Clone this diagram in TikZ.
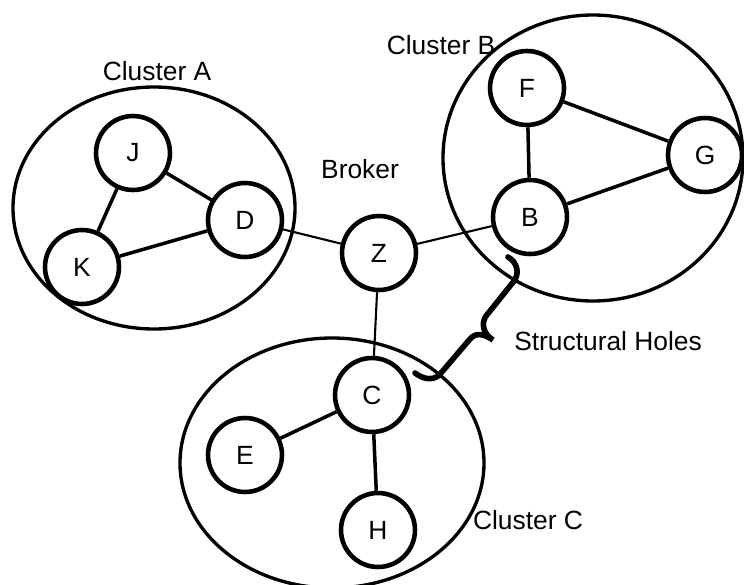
\documentclass[tikz,border=0pt]{standalone}
\usepackage{fontspec}
\setmainfont{Liberation Sans}

\begin{document}
\begin{tikzpicture}[x=0.02cm, y=-0.02cm, font=\fontsize{15}{18}\selectfont]
	\tikzset{actor/.style={draw, circle, line width=2.6pt, minimum size=1.48cm, inner sep=0pt}}
	\tikzset{cluster/.style={line width=1.9pt}}
	\tikzset{tie/.style={line width=2pt}}
	\tikzset{bridge/.style={line width=1.2pt}}
	\useasboundingbox (0,0) rectangle (744,585);

	% the three clusters
	\draw[cluster] (154,208) ellipse (141 and 121);
	\draw[cluster] (593,158) ellipse (150 and 143);
	\draw[cluster] (332,463) ellipse (152 and 125);
	\node (labA) at (157,71) {Cluster A};
	\node (labB) at (441,45) {Cluster B};
	\node (labC) at (528,520) {Cluster C};

	% actors
	\node[actor] (J) at (133,153) {J};
	\node[actor] (D) at (245,220) {D};
	\node[actor] (K) at (82,267) {K};
	\node[actor] (F) at (527,88) {F};
	\node[actor] (G) at (705,155) {G};
	\node[actor] (B) at (530,217) {B};
	\node[actor] (Z) at (379,253) {Z};
	\node[actor] (C) at (372,395) {C};
	\node[actor] (E) at (245,455) {E};
	\node[actor] (H) at (378,530) {H};
	\node (broker) at (360,169) {Broker};

	\draw[tie] (J) -- (D);
	\draw[tie] (J) -- (K);
	\draw[tie] (K) -- (D);
	\draw[tie] (F) -- (G);
	\draw[tie] (F) -- (B);
	\draw[tie] (B) -- (G);
	\draw[tie] (C) -- (E);
	\draw[tie] (C) -- (H);
	\draw[bridge] (D) -- (Z);
	\draw[bridge] (Z) -- (B);
	\draw[bridge] (Z) -- (C);

	% the hole between B and C
	\coordinate (holeB) at (508,257);
	\coordinate (holeC) at (415,373);
	\draw[line width=3.2pt, line cap=round] (holeB)
		.. controls (517,262) and (520,273) .. (514,281) -- (486,316)
		.. controls (481,323) and (483,334) .. (493,340)
		.. controls (484,334) and (476,332) .. (470,339) -- (441,373)
		.. controls (435,381) and (424,380) .. (holeC);
	\node (holes) at (608,341) {Structural Holes};
\end{tikzpicture}
\end{document}
